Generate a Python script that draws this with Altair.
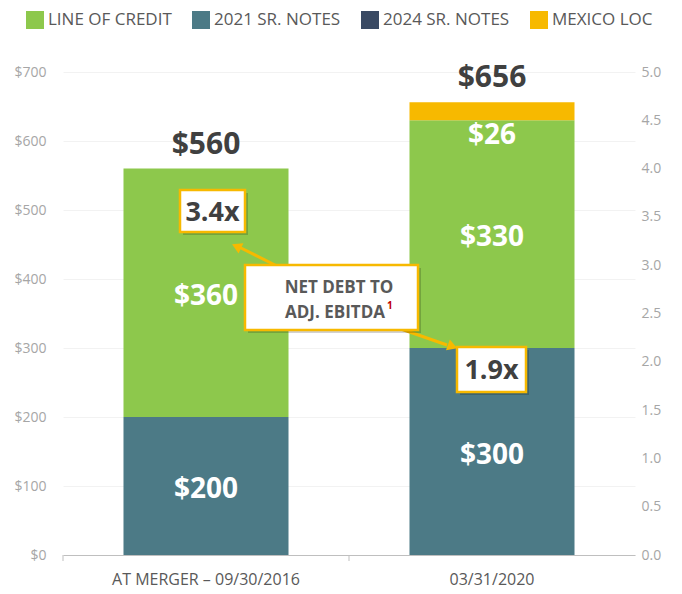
import altair as alt
import pandas as pd

# ---------------- data ----------------
categories = ["At Merger – 09/30/2016", "03/31/2020"]
series = ["Line of Credit", "2021 Sr. Notes", "2024 Sr. Notes", "Mexico LOC"]
stack_order = ["2021 Sr. Notes", "2024 Sr. Notes", "Line of Credit", "Mexico LOC"]
line_of_credit = [360, 330]
notes_2021 = [200, 300]
notes_2024 = [0, 0]
mexico_loc = [0, 26]
ratios = [3.4, 1.9]
ratio_labels = ["3.4x", "1.9x"]

colors = ["#8DC84C", "#4C7A86", "#3A4A63", "#F7B900"]

values = {
    "Line of Credit": line_of_credit,
    "2021 Sr. Notes": notes_2021,
    "2024 Sr. Notes": notes_2024,
    "Mexico LOC": mexico_loc,
}

rows = []
totals = []
for i, cat in enumerate(categories):
    base = 0
    for s in stack_order:
        v = values[s][i]
        rows.append({"category": cat, "series": s, "value": v,
                     "y0": base, "y1": base + v, "mid": base + v / 2,
                     "label": f"${v}"})
        base += v
    totals.append({"category": cat, "total": base, "label": f"${base}"})

bars_df = pd.DataFrame(rows)
bars_df = bars_df[bars_df["value"] > 0]
tot_df = pd.DataFrame(totals)
ratio_df = pd.DataFrame({"category": categories, "ratio": ratios, "label": ratio_labels})

W, H = 572, 483
FONT = "Open Sans"

x_enc = alt.X("category:N", sort=categories,
              scale=alt.Scale(paddingInner=0.423, paddingOuter=0.2115),
              axis=alt.Axis(title=None, labelAngle=0, labelFont=FONT, labelFontSize=16,
                            labelColor="#595959", labelPadding=16, labelLimit=400,
                            domainColor="#BFBFBF", domainWidth=1, ticks=False,
                            labelExpr="upper(datum.label)"))

y_scale = alt.Scale(domain=[0, 700], nice=False)

bars = alt.Chart(bars_df).mark_bar().encode(
    x=x_enc,
    y=alt.Y("y1:Q", scale=y_scale,
            axis=alt.Axis(title=None, values=list(range(0, 701, 100)),
                          labelExpr="'$' + datum.value", labelColor="#A6A6A6",
                          labelFont=FONT, labelFontSize=14, gridColor="#F2F2F2",
                          domain=False, ticks=False, labelPadding=17)),
    y2="y0:Q",
    color=alt.Color("series:N", scale=alt.Scale(domain=series, range=colors),
                    legend=alt.Legend(title=None, orient="none", legendX=-37, legendY=-61,
                                      direction="horizontal", symbolType="square",
                                      symbolSize=324, symbolStrokeWidth=0,
                                      symbolOpacity=1, labelFont=FONT, labelFontSize=17,
                                      labelColor="#595959", labelOffset=4,
                                      columnPadding=20, labelLimit=300,
                                      labelExpr="upper(datum.label)")),
)

big_labels = alt.Chart(bars_df[bars_df["value"] >= 100]).mark_text(
    font=FONT, fontSize=28, fontWeight="bold", color="white", baseline="middle", dy=4
).encode(x=alt.X("category:N", sort=categories), y=alt.Y("mid:Q", scale=y_scale), text="label:N")

small_labels = alt.Chart(bars_df[bars_df["value"] < 100]).mark_text(
    font=FONT, fontSize=28, fontWeight="bold", color="white", baseline="top", dy=2
).encode(x=alt.X("category:N", sort=categories), y=alt.Y("y0:Q", scale=y_scale), text="label:N")

total_labels = alt.Chart(tot_df).mark_text(
    font=FONT, fontSize=30, fontWeight="bold", color="#404040", baseline="middle", dy=-24
).encode(x=alt.X("category:N", sort=categories), y=alt.Y("total:Q", scale=y_scale), text="label:N")

# ---------------- annotations (pixel layout) ----------------
GOLD = "#F7B900"
boxes = pd.DataFrame({
    "x1": [117, 394, 182], "x2": [182, 463, 355],
    "y1": [118, 275, 193], "y2": [160, 320, 258],
})
shadow_df = boxes + 3


def px(f):
    return alt.X(f, scale=None, axis=None)


def py(f):
    return alt.Y(f, scale=None, axis=None)


arrows = pd.DataFrame({"x": [214, 338], "y": [194, 257], "x2": [176, 384], "y2": [175, 273]})
heads = pd.DataFrame({"x": [175, 388], "y": [175, 274], "ang": [295, 110]})

arrow_lines = alt.Chart(arrows).mark_rule(color=GOLD, strokeWidth=3).encode(
    x=px("x:Q"), y=py("y:Q"), x2="x2:Q", y2="y2:Q")
arrow_heads = alt.Chart(heads).mark_point(shape="triangle", filled=True, size=130,
                                          color=GOLD, opacity=1).encode(
    x=px("x:Q"), y=py("y:Q"), angle=alt.Angle("ang:Q", scale=None))

shadows = alt.Chart(shadow_df).mark_rect(color="#000000", opacity=0.18).encode(
    x=px("x1:Q"), x2="x2:Q", y=py("y1:Q"), y2="y2:Q")
box_rects = alt.Chart(boxes).mark_rect(fill="white", stroke=GOLD, strokeWidth=2.5).encode(
    x=px("x1:Q"), x2="x2:Q", y=py("y1:Q"), y2="y2:Q")

ratio_text_df = pd.DataFrame({"x": [149.5, 428.5], "y": [141, 299], "label": ratio_labels})
ratio_text = alt.Chart(ratio_text_df).mark_text(
    font=FONT, fontSize=27, fontWeight="bold", color="#404040", baseline="middle"
).encode(x=px("x:Q"), y=py("y:Q"), text="label:N")

note_df = pd.DataFrame({"x": [276, 272], "y": [216, 241], "label": ["NET DEBT TO", "ADJ. EBITDA"]})
note_text = alt.Chart(note_df).mark_text(
    font=FONT, fontSize=17, fontWeight="bold", color="#595959", baseline="middle"
).encode(x=px("x:Q"), y=py("y:Q"), text="label:N")
sup_df = pd.DataFrame({"x": [324], "y": [234], "label": ["1"]})
sup_text = alt.Chart(sup_df).mark_text(
    font=FONT, fontSize=10, fontWeight="bold", color="#C00000", baseline="middle", align="left"
).encode(x=px("x:Q"), y=py("y:Q"), text="label:N")

tick_df = pd.DataFrame({"x": [0, 286], "y": [483, 483], "y2": [489, 489]})
xticks = alt.Chart(tick_df).mark_rule(color="#BFBFBF", strokeWidth=1).encode(
    x=px("x:Q"), y=py("y:Q"), y2="y2:Q")

left = alt.layer(bars, big_labels, small_labels, total_labels, xticks,
                 arrow_lines, shadows, box_rects, arrow_heads,
                 ratio_text, note_text, sup_text)

right = alt.Chart(ratio_df).mark_text(text="", opacity=0).encode(
    x=alt.X("category:N", sort=categories),
    y=alt.Y("ratio:Q", scale=alt.Scale(domain=[0, 5], nice=False),
            axis=alt.Axis(title=None, orient="right", values=[i / 2 for i in range(11)],
                          format=".1f", grid=False, domain=False, ticks=False,
                          labelColor="#A6A6A6", labelFont=FONT, labelFontSize=14,
                          labelPadding=6)),
)

chart = alt.layer(left, right).resolve_scale(y="independent").properties(
    width=W, height=H,
    autosize=alt.AutoSizeParams(type="none"),
    padding={"left": 55, "top": 64, "right": 39, "bottom": 36},
).configure_view(stroke=None)

chart.save("out.html", embed_options={"renderer": "svg", "actions": False})
